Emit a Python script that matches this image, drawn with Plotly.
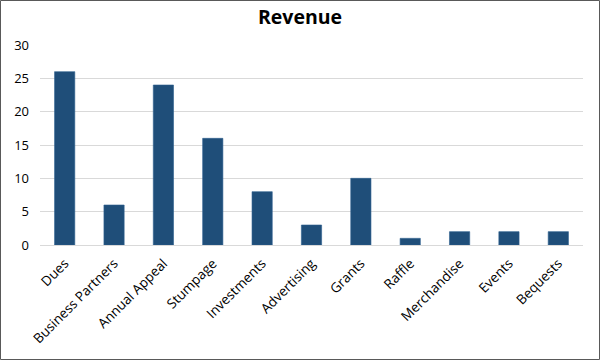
import plotly.graph_objects as go

categories = ["Dues", "Business Partners", "Annual Appeal", "Stumpage", "Investments",
              "Advertising", "Grants", "Raffle", "Merchandise", "Events", "Bequests"]
values = [26, 6, 24, 16, 8, 3, 10, 1, 2, 2, 2]
y_ticks = [0, 5, 10, 15, 20, 25, 30]

W, H = 600, 360
ML, MR, MT, MB = 40, 17, 45, 115

fig = go.Figure(go.Bar(
    x=categories, y=values,
    marker=dict(color="#1F4E79", line=dict(color="#2E5F8E", width=0.6)),
    hoverinfo="x+y",
))

pw = W - ML - MR
ph = H - MT - MB
fig.add_shape(type="rect", xref="paper", yref="paper",
              x0=(-ML + 0.5) / pw, x1=(pw + MR - 0.5) / pw,
              y0=(-MB + 0.5) / ph, y1=(ph + MT - 0.5) / ph,
              line=dict(color="#595959", width=1), layer="above")

fig.update_layout(
    width=W, height=H,
    margin=dict(l=ML, r=MR, t=MT, b=MB, autoexpand=False),
    paper_bgcolor="white", plot_bgcolor="white",
    bargap=0.59,
    showlegend=False,
    title=dict(text="<b>Revenue</b>", x=0.5, xanchor="center", xref="container",
               y=0.952, yanchor="middle", automargin=False,
               font=dict(family="Open Sans, sans-serif", size=19.5, color="black")),
    font=dict(family="Open Sans, sans-serif", size=13, color="#000000"),
    xaxis=dict(tickangle=-45, showgrid=False, showline=False, ticks="", automargin=False,
               ticklabelstandoff=7,
               tickfont=dict(size=13.5, color="#000000")),
    yaxis=dict(range=[0, 30], tickvals=y_ticks, showgrid=True, gridcolor="#D9D9D9",
               gridwidth=1, zeroline=True, zerolinecolor="#D9D9D9", zerolinewidth=1,
               showline=False, ticks="", ticklabelstandoff=10, automargin=False,
               tickfont=dict(size=13, color="#000000")),
)

fig.write_html("out.html", config={"displayModeBar": False},
               post_script="document.body.style.margin='0px';document.body.style.overflow='hidden';")
